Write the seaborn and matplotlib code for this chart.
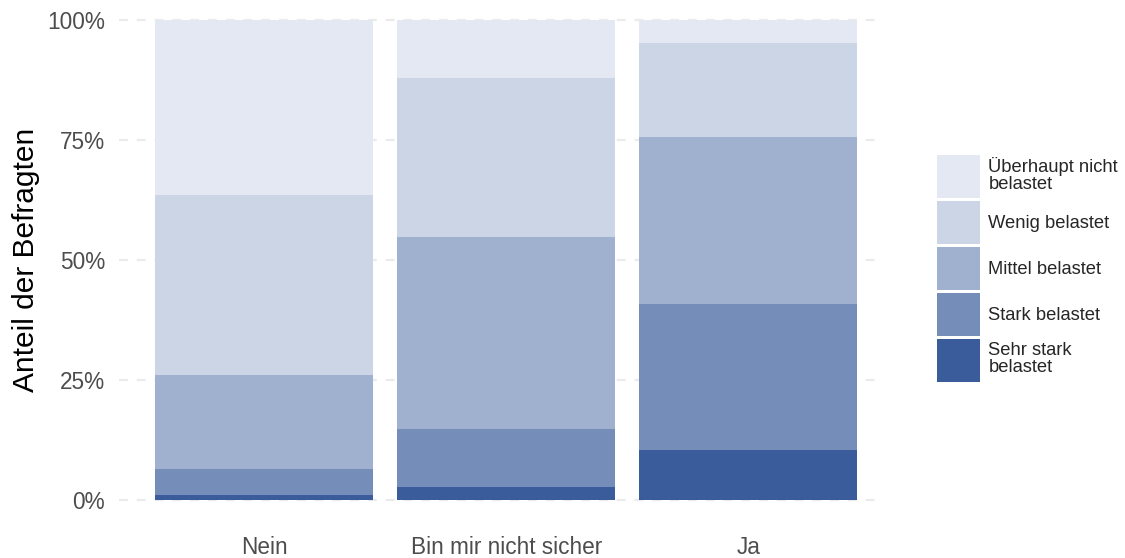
import numpy as np
import pandas as pd
import matplotlib
matplotlib.use("Agg")
import matplotlib.pyplot as plt
from matplotlib.patches import Patch
import seaborn as sns

# Data (percent of respondents)
groups = ["Nein", "Bin mir nicht sicher", "Ja"]
levels = ["Sehr stark belastet", "Stark belastet", "Mittel belastet",
          "Wenig belastet", "Überhaupt nicht belastet"]
legend_labels = ["Sehr stark\nbelastet", "Stark belastet", "Mittel belastet",
                 "Wenig belastet", "Überhaupt nicht\nbelastet"]
sehr_stark = [1.0, 2.7, 10.4]
stark = [5.5, 12.1, 30.4]
mittel = [19.5, 40.0, 34.8]
wenig = [37.5, 33.1, 19.6]
ueberhaupt = [36.5, 12.1, 4.8]
colors = ["#3A5C9A", "#758EB9", "#A0B1CF", "#CCD5E6", "#E4E8F2"]

values = np.array([sehr_stark, stark, mittel, wenig, ueberhaupt]) / 100.0
values = values / values.sum(axis=0)  # normalise to 100 %
cum = np.cumsum(values, axis=0)

df = pd.DataFrame({"group": np.tile(groups, len(levels)),
                   "level": np.repeat(levels, len(groups)),
                   "cum": cum.ravel()})

sns.set_theme(style="white")
plt.rcParams["font.family"] = ["Liberation Sans", "DejaVu Sans"]

fig = plt.figure(figsize=(11.25, 5.58), dpi=100)
W, H = 1125, 558
y0, y1 = 500, 20  # pixel rows of 0 % and 100 %
lo, hi = -0.02, 1.02
px_per = (y0 - y1)
bottom_px = y0 + (0 - lo) * px_per
top_px = y1 - (hi - 1) * px_per
ax = fig.add_axes([119 / W, 1 - bottom_px / H, (882 - 119) / W, (bottom_px - top_px) / H])

# draw cumulative layers from the top down so each covers the one above
for lvl, col in reversed(list(zip(levels, colors))):
    sns.barplot(data=df[df["level"] == lvl], x="group", y="cum", order=groups,
                color=col, saturation=1, width=0.9, linewidth=0,
                errorbar=None, ax=ax, zorder=2)

ax.set_xlim(-0.6, 2.553)
ax.set_ylim(lo, hi)
ax.set_yticks([0, 0.25, 0.5, 0.75, 1.0])
ax.set_yticklabels(["0%", "25%", "50%", "75%", "100%"])
ax.yaxis.grid(True, color="#EBEBEB", linewidth=1.6, linestyle=(0, (4, 4)), zorder=0)
ax.xaxis.grid(False)
ax.set_axisbelow(True)
for s in ax.spines.values():
    s.set_visible(False)
ax.tick_params(axis="both", length=0, labelsize=16.3, labelcolor="#4D4D4D")
ax.tick_params(axis="x", pad=19)
ax.tick_params(axis="y", pad=10)
ax.set_xlabel("")
ax.set_ylabel("Anteil der Befragten", fontsize=21.5, color="black", labelpad=5.5)

handles = [Patch(facecolor=c, edgecolor="none") for c in colors][::-1]
leg = fig.legend(handles, legend_labels[::-1], loc="upper left",
                 bbox_to_anchor=(937 / W, 1 - 155 / H), frameon=False,
                 fontsize=13.2, handlelength=2.35, handleheight=3.22,
                 handletextpad=0.45, labelspacing=0.17, borderpad=0, borderaxespad=0)
for t in leg.get_texts():
    t.set_linespacing(1.0)

fig.savefig("out.png", dpi=100)
